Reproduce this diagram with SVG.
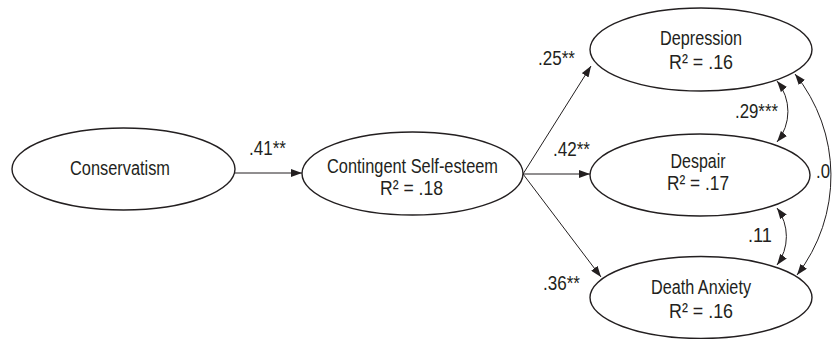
<svg xmlns="http://www.w3.org/2000/svg" width="833" height="339" viewBox="0 0 833 339">
<defs>
<style>
.node ellipse{fill:#fff;stroke:#231f20;stroke-width:1.4}
text{font-family:"Liberation Sans",Arial,sans-serif;font-size:20px;fill:#231f20}
.c{text-anchor:middle}
.edge{fill:none;stroke:#231f20;stroke-width:1}
</style>
<marker id="ah" viewBox="0 0 11 8" refX="11" refY="4" markerWidth="11" markerHeight="8" markerUnits="userSpaceOnUse" orient="auto-start-reverse">
<path d="M0,0 L11,4 L0,8 z" fill="#231f20"/>
</marker>
</defs>
<g id="connectors">
<line class="edge" x1="234" y1="173" x2="302" y2="173" marker-end="url(#ah)"/>
<line class="edge" x1="523" y1="174" x2="590" y2="174" marker-end="url(#ah)"/>
<line class="edge" x1="523" y1="174" x2="591" y2="66" marker-end="url(#ah)"/>
<line class="edge" x1="523" y1="174" x2="601" y2="277" marker-end="url(#ah)"/>
<path class="edge" d="M777,81 A48,48 0 0 1 777,142" marker-start="url(#ah)" marker-end="url(#ah)"/>
<path class="edge" d="M777,208 A48,48 0 0 1 777,265" marker-start="url(#ah)" marker-end="url(#ah)"/>
<path class="edge" d="M795,74 A162,162 0 0 1 797,275" marker-start="url(#ah)" marker-end="url(#ah)"/>
<text x="249" y="155" textLength="37" lengthAdjust="spacingAndGlyphs">.41**</text>
<text x="538" y="65" textLength="37" lengthAdjust="spacingAndGlyphs">.25**</text>
<text x="553" y="156" textLength="37" lengthAdjust="spacingAndGlyphs">.42**</text>
<text x="543" y="290" textLength="37" lengthAdjust="spacingAndGlyphs">.36**</text>
<text x="735" y="118" textLength="43" lengthAdjust="spacingAndGlyphs">.29***</text>
<text x="748" y="242" textLength="24" lengthAdjust="spacingAndGlyphs">.11</text>
<text x="816" y="178" textLength="14" lengthAdjust="spacingAndGlyphs">.0</text>
</g>
<g id="conservatism" class="node">
<ellipse cx="123.5" cy="169" rx="111.5" ry="41"/>
<text class="c" x="120" y="175" textLength="100" lengthAdjust="spacingAndGlyphs">Conservatism</text>
</g>
<g id="contingent" class="node">
<ellipse cx="412.5" cy="173.5" rx="110.5" ry="41.5"/>
<text class="c" x="412.5" y="173" textLength="171" lengthAdjust="spacingAndGlyphs">Contingent Self-esteem</text>
<text class="c" x="411.5" y="195" textLength="63" lengthAdjust="spacingAndGlyphs">R² = .18</text>
</g>
<g id="depression" class="node">
<ellipse cx="701" cy="49.5" rx="111" ry="41.5"/>
<text class="c" x="701" y="45" textLength="82" lengthAdjust="spacingAndGlyphs">Depression</text>
<text class="c" x="701" y="69" textLength="64" lengthAdjust="spacingAndGlyphs">R² = .16</text>
</g>
<g id="despair" class="node">
<ellipse cx="700" cy="175" rx="110" ry="41"/>
<text class="c" x="698" y="168" textLength="55" lengthAdjust="spacingAndGlyphs">Despair</text>
<text class="c" x="698" y="190" textLength="62" lengthAdjust="spacingAndGlyphs">R² = .17</text>
</g>
<g id="death-anxiety" class="node">
<ellipse cx="701" cy="297.5" rx="111" ry="41"/>
<text class="c" x="701" y="294" textLength="100" lengthAdjust="spacingAndGlyphs">Death Anxiety</text>
<text class="c" x="701" y="318" textLength="64" lengthAdjust="spacingAndGlyphs">R² = .16</text>
</g>
</svg>
